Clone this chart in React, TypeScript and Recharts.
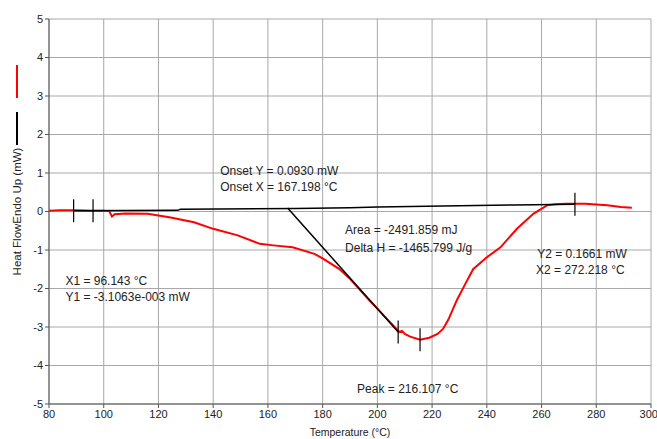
import {
  LineChart, Line, XAxis, YAxis, CartesianGrid, ReferenceLine, ReferenceDot,
} from 'recharts';

// Measured heat flow curve (red)
const curveTemp = [
  80, 84, 90, 95, 100, 102, 103, 104, 108, 116, 124, 133, 140, 149, 157, 162, 169, 177,
  180, 186, 190, 197, 203, 208, 209, 210, 212, 215.6, 219, 222, 224, 226, 229, 232, 235,
  240, 245, 251, 257, 262, 265, 269, 276, 284, 289, 293,
];
const curveFlow = [
  0.02, 0.03, 0.03, 0.02, 0.02, 0.01, -0.13, -0.07, -0.05, -0.06, -0.15, -0.28, -0.45, -0.62, -0.84, -0.88, -0.93, -1.1,
  -1.22, -1.49, -1.75, -2.3, -2.75, -3.13, -3.1, -3.18, -3.25, -3.33, -3.28, -3.18, -3.05, -2.8, -2.31, -1.9, -1.5,
  -1.19, -0.93, -0.45, -0.06, 0.16, 0.19, 0.2, 0.2, 0.16, 0.12, 0.1,
];

// Baseline from X1 to X2 (black)
const baseTemp = [89, 127, 128, 170, 190, 200, 230, 250, 272];
const baseFlow = [0.02, 0.03, 0.06, 0.08, 0.1, 0.12, 0.15, 0.17, 0.19];

// Onset tangent
const tangentTemp = [167.2, 207.6];
const tangentFlow = [0.09, -3.13];

// Short vertical markers: [temp, flow center]
const markers = [
  [89, 0.02], [96.1, 0.02], [207.6, -3.13], [215.6, -3.33], [272.2, 0.19],
];

const annotations = [
  { t: 142.6, v: 1.06, text: 'Onset Y = 0.0930 mW' },
  { t: 142.6, v: 0.64, text: 'Onset X = 167.198 °C' },
  { t: 188.2, v: -0.47, text: 'Area = -2491.859 mJ' },
  { t: 188.2, v: -0.96, text: 'Delta H = -1465.799 J/g' },
  { t: 258.4, v: -1.1, text: 'Y2 = 0.1661 mW' },
  { t: 258.0, v: -1.52, text: 'X2 = 272.218 °C' },
  { t: 86.0, v: -1.8, text: 'X1 = 96.143 °C' },
  { t: 86.0, v: -2.22, text: 'Y1 = -3.1063e-003 mW' },
  { t: 192.6, v: -4.6, text: 'Peak = 216.107 °C' },
];

const xTicks = [80, 100, 120, 140, 160, 180, 200, 220, 240, 260, 280, 300];
const yTicks = [-5, -4, -3, -2, -1, 0, 1, 2, 3, 4, 5];

const font = 'Liberation Sans, Arial, sans-serif';

export default function App() {
  const curve = curveTemp.map((t, i) => ({ t, v: curveFlow[i] }));
  const base = baseTemp.map((t, i) => ({ t, v: baseFlow[i] }));
  const tangent = tangentTemp.map((t, i) => ({ t, v: tangentFlow[i] }));

  const noteLabel = (text: string) => (props: any) => {
    const vb = props.viewBox || {};
    return (
      <text x={vb.x} y={vb.y} dominantBaseline="central" fontSize={12} fontFamily={font} fill="#222">
        {text}
      </text>
    );
  };

  const yLabel = (props: any) => {
    const vb = props.viewBox;
    const x = vb.x - 2;
    const y = vb.y + vb.height / 2;
    return (
      <text x={x} y={y} transform={`rotate(-90 ${x} ${y})`} textAnchor="middle" dominantBaseline="central"
        fontSize={11.5} fontFamily={font} fill="#222">
        Heat FlowEndo Up (mW)
      </text>
    );
  };

  return (
    <div style={{ position: 'absolute', left: 0, top: 0, width: 657, height: 439, background: '#fff' }}>
      <LineChart width={657} height={439} margin={{ top: 19, right: 6, left: 19, bottom: 2 }}>
        <CartesianGrid stroke="#a8a8a8" strokeWidth={1} />
        <XAxis
          type="number" dataKey="t" domain={[80, 300]} ticks={xTicks} allowDataOverflow
          height={33} tickSize={4} stroke="#555"
          tick={{ fontSize: 11, fill: '#222', fontFamily: font }}
          label={{ value: 'Temperature (°C)', position: 'insideBottom', offset: 1, fontSize: 10.5, fill: '#222', fontFamily: font }}
        />
        <YAxis
          type="number" dataKey="v" domain={[-5, 5]} ticks={yTicks} allowDataOverflow
          width={30} tickSize={4} stroke="#555"
          tick={{ fontSize: 11, fill: '#222', fontFamily: font }}
          label={{ content: yLabel }}
        />
        <Line data={curve} dataKey="v" type="linear" stroke="#ff0000" strokeWidth={2} dot={false} isAnimationActive={false} />
        <Line data={base} dataKey="v" type="linear" stroke="#000" strokeWidth={1.5} dot={false} isAnimationActive={false} />
        <Line data={tangent} dataKey="v" type="linear" stroke="#000" strokeWidth={1.5} dot={false} isAnimationActive={false} />
        {markers.map(([t, v], i) => (
          <ReferenceLine key={`m${i}`} segment={[{ x: t, y: v - 0.3 }, { x: t, y: v + 0.3 }]} stroke="#000" strokeWidth={1.2} />
        ))}
        {annotations.map((a, i) => (
          <ReferenceDot key={`a${i}`} x={a.t} y={a.v} r={0} stroke="none" fill="none" label={{ content: noteLabel(a.text) }} />
        ))}
      </LineChart>
      <div style={{ position: 'absolute', left: 16, top: 65, width: 2, height: 33, background: '#ff0000' }} />
      <div style={{ position: 'absolute', left: 16, top: 112, width: 1.5, height: 33, background: '#000' }} />
    </div>
  );
}
